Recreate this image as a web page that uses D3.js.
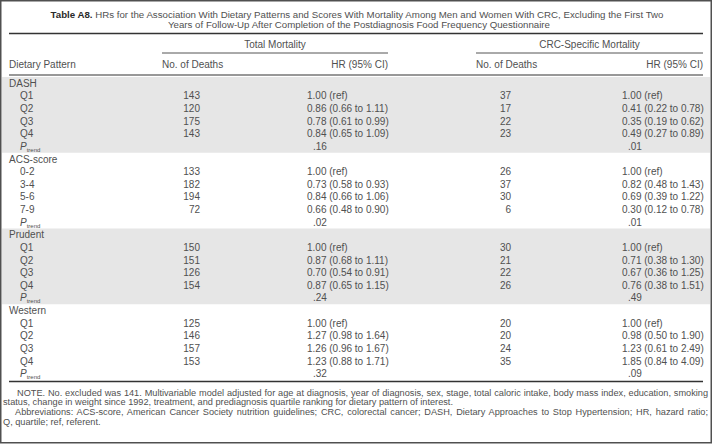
<!DOCTYPE html>
<html lang="en">
  <head>
    <meta charset="utf-8" />
    <title>Table A8</title>
    <style>
      body { margin: 0; background: #fff; overflow: hidden; }
      svg { display: block; }
      text { font-family: 'Liberation Sans', Arial, sans-serif; fill: #505050; }
    </style>
  </head>
  <body>
    <div class="container"></div>
    <script src="https://cdn.jsdelivr.net/npm/d3@7"></script>
    <script>
      // Data
      const patterns = ['DASH', 'ACS-score', 'Prudent', 'Western'];
      const levels = [
        ['Q1', 'Q2', 'Q3', 'Q4'],
        ['0-2', '3-4', '5-6', '7-9'],
        ['Q1', 'Q2', 'Q3', 'Q4'],
        ['Q1', 'Q2', 'Q3', 'Q4'],
      ];
      const totalDeaths = [[143, 120, 175, 143], [133, 182, 194, 72], [150, 151, 126, 154], [125, 146, 157, 153]];
      const totalHR = [[1.0, 0.86, 0.78, 0.84], [1.0, 0.73, 0.84, 0.66], [1.0, 0.87, 0.7, 0.87], [1.0, 1.27, 1.26, 1.23]];
      const totalLo = [[null, 0.66, 0.61, 0.65], [null, 0.58, 0.66, 0.48], [null, 0.68, 0.54, 0.65], [null, 0.98, 0.96, 0.88]];
      const totalHi = [[null, 1.11, 0.99, 1.09], [null, 0.93, 1.06, 0.9], [null, 1.11, 0.91, 1.15], [null, 1.64, 1.67, 1.71]];
      const totalP = ['.16', '.02', '.24', '.32'];
      const crcDeaths = [[37, 17, 22, 23], [26, 37, 30, 6], [30, 21, 22, 26], [20, 20, 24, 35]];
      const crcHR = [[1.0, 0.41, 0.35, 0.49], [1.0, 0.82, 0.69, 0.3], [1.0, 0.71, 0.67, 0.76], [1.0, 0.98, 1.23, 1.85]];
      const crcLo = [[null, 0.22, 0.19, 0.27], [null, 0.48, 0.39, 0.12], [null, 0.38, 0.36, 0.38], [null, 0.5, 0.61, 0.84]];
      const crcHi = [[null, 0.78, 0.62, 0.89], [null, 1.43, 1.22, 0.78], [null, 1.3, 1.25, 1.51], [null, 1.9, 2.49, 4.09]];
      const crcP = ['.01', '.01', '.49', '.09'];

      const titleLines = [
        'HRs for the Association With Dietary Patterns and Scores With Mortality Among Men and Women With CRC, Excluding the First Two',
        'Years of Follow-Up After Completion of the Postdiagnosis Food Frequency Questionnaire',
      ];
      const notes = [
        'NOTE. No. excluded was 141. Multivariable model adjusted for age at diagnosis, year of diagnosis, sex, stage, total caloric intake, body mass index, education, smoking',
        'status, change in weight since 1992, treatment, and prediagnosis quartile ranking for dietary pattern of interest.',
        'Abbreviations: ACS-score, American Cancer Society nutrition guidelines; CRC, colorectal cancer; DASH, Dietary Approaches to Stop Hypertension; HR, hazard ratio;',
        'Q, quartile; ref, referent.',
      ];

      const width = 712;
      const height = 445;
      const fs = 10;
      const fmt = d3.format('.2f');
      const hrText = (hr, lo, hi) => (lo == null ? `${fmt(hr)} (ref)` : `${fmt(hr)} (${fmt(lo)} to ${fmt(hi)})`);

      // build rows
      const rows = [];
      patterns.forEach((p, g) => {
        rows.push({ type: 'head', label: p, g });
        levels[g].forEach((l, i) => {
          rows.push({
            type: 'level', label: l, g,
            td: totalDeaths[g][i], thr: hrText(totalHR[g][i], totalLo[g][i], totalHi[g][i]),
            cd: crcDeaths[g][i], chr: hrText(crcHR[g][i], crcLo[g][i], crcHi[g][i]),
          });
        });
        rows.push({ type: 'p', g, tp: totalP[g], cp: crcP[g] });
      });

      const x = { left: 9, right: 703, tDeath: 162, tNum: 200, tHR: 307, tHREnd: 388, cDeath: 476, cNum: 511, cHR: 622, cHREnd: 703 };
      const y = d3.scaleBand().domain(d3.range(rows.length)).range([77, 380]);

      const svg = d3.select('div.container').append('svg').attr('width', width).attr('height', height);

      // shaded bands for DASH and Prudent
      patterns.forEach((p, g) => {
        if (g % 2 === 0) {
          const first = rows.findIndex((r) => r.g === g);
          svg.append('rect').attr('x', 2).attr('width', width - 4)
            .attr('y', y(first)).attr('height', y.step() * 6).attr('fill', '#e6e6e6');
        }
      });

      // frame
      svg.append('rect').attr('x', 0.75).attr('y', 0.75).attr('width', width - 1.5).attr('height', height - 3)
        .attr('fill', 'none').attr('stroke', '#505050').attr('stroke-width', 1.5);

      // title
      const title = svg.append('g').attr('font-size', 9.7);
      const t1 = title.append('text').attr('x', 357).attr('y', 17.5).attr('text-anchor', 'middle');
      t1.append('tspan').attr('font-weight', 'bold').style('fill', '#2a2a2a').text('Table A8.');
      t1.append('tspan').text(' ' + titleLines[0]);
      title.append('text').attr('x', 359).attr('y', 28).attr('text-anchor', 'middle').text(titleLines[1]);

      // rules
      const rule = (x1, x2, yy, w, c) =>
        svg.append('line').attr('x1', x1).attr('x2', x2).attr('y1', yy).attr('y2', yy).attr('stroke', c).attr('stroke-width', w);

      rule(x.left, x.right, 33.5, 1.5, '#333');
      rule(x.tDeath, x.tHREnd, 53, 1, '#555');
      rule(x.cDeath, x.cHREnd, 53, 1, '#555');
      rule(x.left, x.right, 75, 1.2, '#333');
      rule(x.left, x.right, 381.5, 1.5, '#333');

      const head = svg.append('g').attr('font-size', fs);
      head.append('text').attr('x', (x.tDeath + x.tHREnd) / 2).attr('y', 48).attr('text-anchor', 'middle').text('Total Mortality');
      head.append('text').attr('x', (x.cDeath + x.cHREnd) / 2).attr('y', 48).attr('text-anchor', 'middle').text('CRC-Specific Mortality');
      head.append('text').attr('x', x.left).attr('y', 67.5).text('Dietary Pattern');
      head.append('text').attr('x', x.tDeath).attr('y', 67.5).text('No. of Deaths');
      head.append('text').attr('x', x.tHREnd).attr('y', 67.5).attr('text-anchor', 'end').text('HR (95% CI)');
      head.append('text').attr('x', x.cDeath).attr('y', 67.5).text('No. of Deaths');
      head.append('text').attr('x', x.cHREnd).attr('y', 67.5).attr('text-anchor', 'end').text('HR (95% CI)');

      // body
      const body = svg.append('g').attr('font-size', fs);
      const rowG = body.selectAll('g.row').data(rows).join('g').attr('class', 'row')
        .attr('transform', (d, i) => `translate(0,${y(i) + y.bandwidth() / 2 + 3.5})`);

      rowG.filter((d) => d.type === 'head').append('text').attr('x', x.left).text((d) => d.label);
      const lv = rowG.filter((d) => d.type === 'level');
      lv.append('text').attr('x', 20).text((d) => d.label);
      lv.append('text').attr('x', x.tNum).attr('text-anchor', 'end').text((d) => d.td);
      lv.append('text').attr('x', x.tHR).text((d) => d.thr);
      lv.append('text').attr('x', x.cNum).attr('text-anchor', 'end').text((d) => d.cd);
      lv.append('text').attr('x', x.cHR).text((d) => d.chr);
      const pr = rowG.filter((d) => d.type === 'p');
      const pt = pr.append('text').attr('x', 20);
      pt.append('tspan').attr('font-style', 'italic').text('P');
      pt.append('tspan').attr('font-size', 6).attr('dy', 2).text('trend');
      pr.append('text').attr('x', x.tHR + 6).text((d) => d.tp);
      pr.append('text').attr('x', x.cHR + 6).text((d) => d.cp);

      // notes (lines 1 and 3 are justified by widening the word gaps)
      const noteG = svg.append('g').attr('font-size', 9.2);
      const noteX = [17, 3, 15, 3];
      const noteJust = [true, false, true, false];
      notes.forEach((n, i) => {
        const t = noteG.append('text').attr('x', noteX[i]).attr('y', 395.5 + i * 9.8).text(n);
        if (noteJust[i]) {
          const natural = t.node().getComputedTextLength();
          const gaps = n.split(' ').length - 1;
          t.attr('word-spacing', (708 - noteX[i] - natural) / gaps);
        }
      });
    </script>
  </body>
</html>
